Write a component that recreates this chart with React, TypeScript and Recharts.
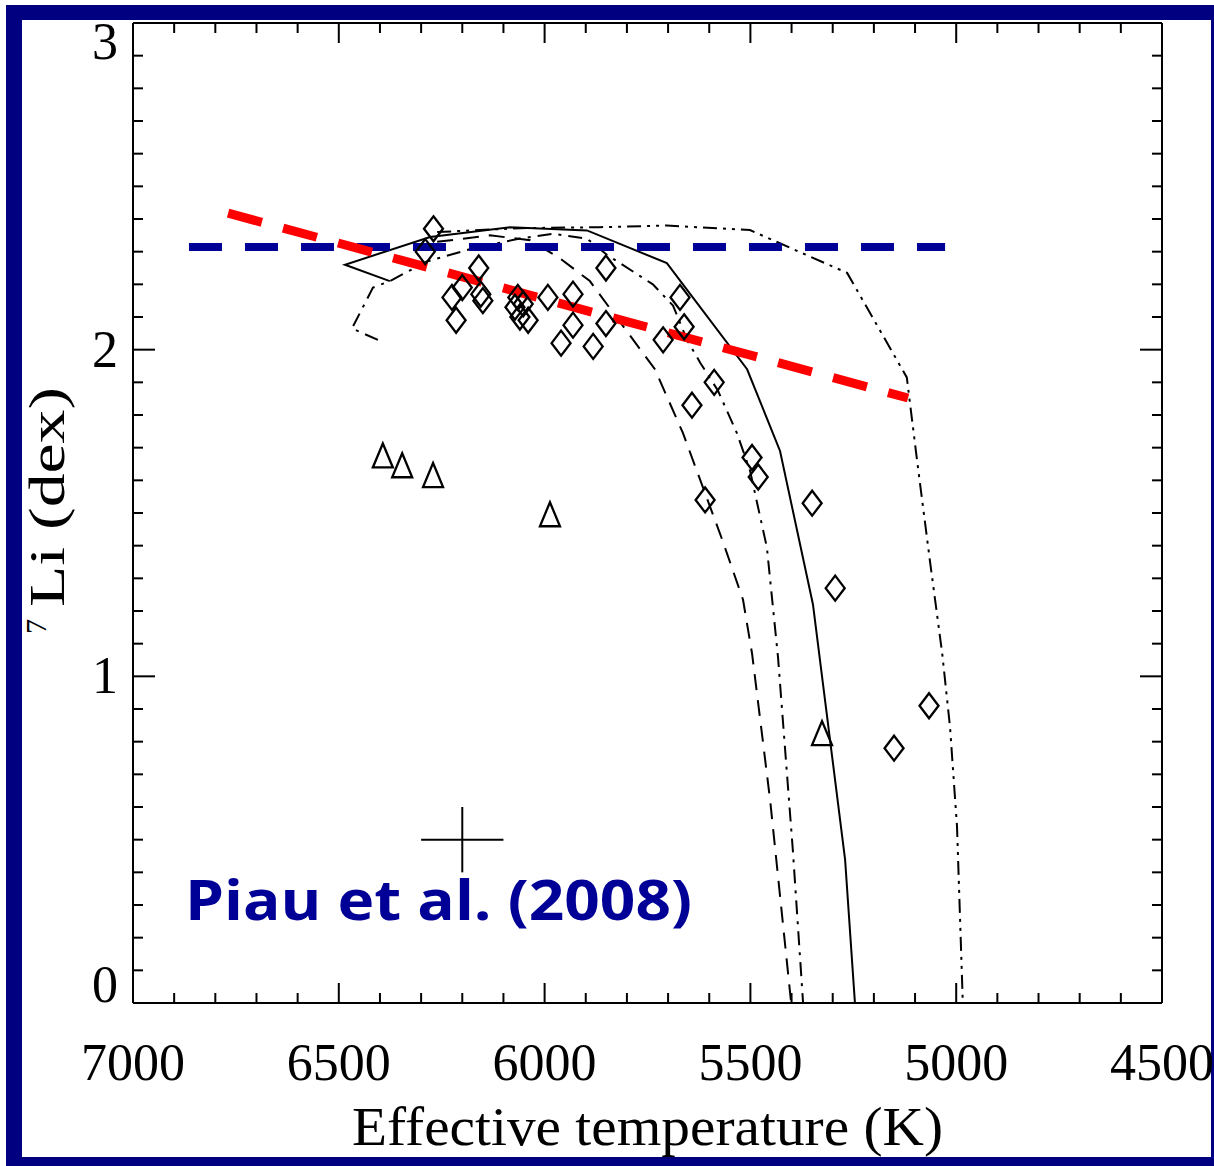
import React from 'react';
import { ComposedChart, Line, Scatter, XAxis, YAxis } from 'recharts';

// ---- axis ticks ----
const xTickValues = [4500, 4600, 4700, 4800, 4900, 5000, 5100, 5200, 5300, 5400, 5500, 5600, 5700, 5800, 5900, 6000, 6100, 6200, 6300, 6400, 6500, 6600, 6700, 6800, 6900, 7000];
const xMajorLabels = [4500, 5000, 5500, 6000, 6500, 7000];
const yTickValues = [0, 0.1, 0.2, 0.3, 0.4, 0.5, 0.6, 0.7, 0.8, 0.9, 1, 1.1, 1.2, 1.3, 1.4, 1.5, 1.6, 1.7, 1.8, 1.9, 2, 2.1, 2.2, 2.3, 2.4, 2.5, 2.6, 2.7, 2.8, 2.9, 3];
const yMajorLabels = [0, 1, 2, 3];

// ---- observed stars ----
const diamondStars = [
  { x: 6270, y: 2.37 }, { x: 6290, y: 2.30 }, { x: 6160, y: 2.25 }, { x: 6200, y: 2.19 },
  { x: 6225, y: 2.16 }, { x: 6155, y: 2.17 }, { x: 6150, y: 2.15 }, { x: 6215, y: 2.09 },
  { x: 6065, y: 2.16 }, { x: 6072, y: 2.13 }, { x: 6052, y: 2.14 }, { x: 6060, y: 2.10 },
  { x: 6040, y: 2.09 }, { x: 5992, y: 2.16 }, { x: 5931, y: 2.17 }, { x: 5960, y: 2.02 },
  { x: 5931, y: 2.075 }, { x: 5882, y: 2.01 }, { x: 5851, y: 2.08 }, { x: 5851, y: 2.25 },
  { x: 5712, y: 2.03 }, { x: 5671, y: 2.16 }, { x: 5661, y: 2.07 }, { x: 5588, y: 1.90 },
  { x: 5642, y: 1.83 }, { x: 5610, y: 1.54 }, { x: 5496, y: 1.67 }, { x: 5481, y: 1.61 },
  { x: 5350, y: 1.53 }, { x: 5294, y: 1.27 }, { x: 5151, y: 0.78 }, { x: 5066, y: 0.91 },
];
const triangleStars = [
  { x: 6393, y: 1.67 }, { x: 6346, y: 1.64 }, { x: 6271, y: 1.61 }, { x: 5987, y: 1.49 }, { x: 5326, y: 0.82 },
];

// ---- model curves ----
const solidModel = [
  { x: 6376, y: 2.21 }, { x: 6485, y: 2.26 }, { x: 6278, y: 2.345 }, { x: 6084, y: 2.375 },
  { x: 5897, y: 2.365 }, { x: 5703, y: 2.265 }, { x: 5508, y: 1.94 }, { x: 5428, y: 1.69 },
  { x: 5348, y: 1.22 }, { x: 5270, y: 0.44 }, { x: 5246, y: 0 },
];
const dashedModel = [
  { x: 6261, y: 2.33 }, { x: 6133, y: 2.35 }, { x: 6035, y: 2.335 }, { x: 5963, y: 2.28 },
  { x: 5890, y: 2.21 }, { x: 5817, y: 2.085 }, { x: 5732, y: 1.94 }, { x: 5664, y: 1.745 },
  { x: 5569, y: 1.42 }, { x: 5518, y: 1.235 }, { x: 5496, y: 1.07 }, { x: 5452, y: 0.62 }, { x: 5401, y: 0 },
];
const dashDotModel = [
  { x: 6405, y: 2.03 }, { x: 6468, y: 2.065 }, { x: 6417, y: 2.19 }, { x: 6376, y: 2.21 },
  { x: 6286, y: 2.27 }, { x: 6174, y: 2.31 }, { x: 6060, y: 2.34 }, { x: 5980, y: 2.355 },
  { x: 5897, y: 2.34 }, { x: 5848, y: 2.29 }, { x: 5737, y: 2.2 }, { x: 5688, y: 2.135 },
  { x: 5654, y: 2.03 }, { x: 5622, y: 1.96 }, { x: 5579, y: 1.875 }, { x: 5533, y: 1.745 },
  { x: 5501, y: 1.63 }, { x: 5460, y: 1.395 }, { x: 5433, y: 1.06 }, { x: 5397, y: 0.47 }, { x: 5372, y: 0 },
];
const dashDotDotModel = [
  { x: 6261, y: 2.36 }, { x: 6060, y: 2.372 }, { x: 5865, y: 2.375 }, { x: 5703, y: 2.38 },
  { x: 5501, y: 2.366 }, { x: 5265, y: 2.235 }, { x: 5120, y: 1.915 }, { x: 5095, y: 1.66 },
  { x: 5064, y: 1.355 }, { x: 5034, y: 1.07 }, { x: 5015, y: 0.845 }, { x: 4998, y: 0.54 },
  { x: 4986, y: 0.08 }, { x: 4984, y: 0 },
];

// ---- reference lines ----
const bluePlateau = [{ x: 6864, y: 2.314 }, { x: 5027, y: 2.314 }];
const redTrend = [{ x: 6769, y: 2.418 }, { x: 5117, y: 1.852 }];

// ---- error cross ----
const errorBarH = [{ x: 6300, y: 0.5 }, { x: 6100, y: 0.5 }];
const errorBarV = [{ x: 6200, y: 0.4 }, { x: 6200, y: 0.6 }];

const TICK_FONT = '"Liberation Serif", "DejaVu Serif", serif';

const isMajorY = (v: number) => yMajorLabels.some((m) => Math.abs(m - v) < 1e-6);

const BottomTick = (props: any) => {
  const { x, y, payload } = props;
  const major = xMajorLabels.includes(payload.value);
  return (
    <g>
      <line x1={x} x2={x} y1={y} y2={y - (major ? 20 : 10)} stroke="#000" strokeWidth={2} />
      {major && (
        <text x={x} y={y + 77} textAnchor="middle" fontFamily={TICK_FONT} fontSize={52} fill="#000">
          {payload.value}
        </text>
      )}
    </g>
  );
};
const TopTick = (props: any) => {
  const { x, y, payload } = props;
  const major = xMajorLabels.includes(payload.value);
  return <line x1={x} x2={x} y1={y} y2={y + (major ? 20 : 10)} stroke="#000" strokeWidth={2} />;
};
const LeftTick = (props: any) => {
  const { x, y, payload } = props;
  const v = payload.value;
  const major = isMajorY(v);
  let base = y + 17;
  if (Math.abs(v) < 1e-6) base = y - 1;
  if (Math.abs(v - 3) < 1e-6) base = y + 36;
  return (
    <g>
      <line x1={x} x2={x + (major ? 22 : 10)} y1={y} y2={y} stroke="#000" strokeWidth={2} />
      {major && (
        <text x={x - 15} y={base} textAnchor="end" fontFamily={TICK_FONT} fontSize={52} fill="#000">
          {Math.round(v)}
        </text>
      )}
    </g>
  );
};
const RightTick = (props: any) => {
  const { x, y, payload } = props;
  const major = isMajorY(payload.value);
  return <line x1={x} x2={x - (major ? 22 : 10)} y1={y} y2={y} stroke="#000" strokeWidth={2} />;
};

const DiamondShape = (props: any) => {
  const { cx, cy } = props;
  if (cx == null || cy == null) return <g />;
  const w = 9.5;
  const h = 12.5;
  return (
    <path
      d={`M${cx},${cy - h} L${cx + w},${cy} L${cx},${cy + h} L${cx - w},${cy} Z`}
      fill="none"
      stroke="#000"
      strokeWidth={2.3}
    />
  );
};
const TriangleShape = (props: any) => {
  const { cx, cy } = props;
  if (cx == null || cy == null) return <g />;
  return (
    <path
      d={`M${cx},${cy - 14} L${cx + 10},${cy + 10} L${cx - 10},${cy + 10} Z`}
      fill="none"
      stroke="#000"
      strokeWidth={2.3}
    />
  );
};

const W = 1214;
const H = 1166;

export default function App() {
  return (
    <>
      <div
        style={{
          position: 'absolute',
          left: 6,
          top: 5,
          width: 1208,
          height: 1161,
          boxSizing: 'border-box',
          borderStyle: 'solid',
          borderColor: '#000080',
          borderWidth: '15px 3px 9px 16px',
          background: '#fff',
        }}
      />
      <div style={{ position: 'absolute', left: 0, top: 0, width: W, height: H }}>
        <ComposedChart
          width={W}
          height={H}
          margin={{ top: 22, right: 51, bottom: 162, left: 132 }}
          style={{ overflow: 'visible' }}
        >
          <XAxis
            xAxisId="b"
            dataKey="x"
            type="number"
            domain={[4500, 7000]}
            allowDataOverflow
            reversed
            orientation="bottom"
            height={1}
            ticks={xTickValues}
            interval={0}
            tickSize={0}
            tickMargin={0}
            tick={<BottomTick />}
            axisLine={{ stroke: '#000', strokeWidth: 2 }}
            tickLine={false}
          />
          <XAxis
            xAxisId="t"
            dataKey="x"
            type="number"
            domain={[4500, 7000]}
            allowDataOverflow
            reversed
            orientation="top"
            height={1}
            ticks={xTickValues}
            interval={0}
            tickSize={0}
            tickMargin={0}
            tick={<TopTick />}
            axisLine={{ stroke: '#000', strokeWidth: 2 }}
            tickLine={false}
          />
          <YAxis
            yAxisId="l"
            dataKey="y"
            type="number"
            domain={[0, 3]}
            allowDataOverflow
            orientation="left"
            width={1}
            ticks={yTickValues}
            interval={0}
            tickSize={0}
            tickMargin={0}
            tick={<LeftTick />}
            axisLine={{ stroke: '#000', strokeWidth: 2 }}
            tickLine={false}
          />
          <YAxis
            yAxisId="r"
            dataKey="y"
            type="number"
            domain={[0, 3]}
            allowDataOverflow
            orientation="right"
            width={1}
            ticks={yTickValues}
            interval={0}
            tickSize={0}
            tickMargin={0}
            tick={<RightTick />}
            axisLine={{ stroke: '#000', strokeWidth: 2 }}
            tickLine={false}
          />

          <Line xAxisId="b" yAxisId="l" data={solidModel} dataKey="y" stroke="#000" strokeWidth={2} dot={false} isAnimationActive={false} />
          <Line xAxisId="b" yAxisId="l" data={dashedModel} dataKey="y" stroke="#000" strokeWidth={2} strokeDasharray="16 10" dot={false} isAnimationActive={false} />
          <Line xAxisId="b" yAxisId="l" data={dashDotModel} dataKey="y" stroke="#000" strokeWidth={2} strokeDasharray="14 7 3 7" dot={false} isAnimationActive={false} />
          <Line xAxisId="b" yAxisId="l" data={dashDotDotModel} dataKey="y" stroke="#000" strokeWidth={2} strokeDasharray="14 6 3 6 3 6" dot={false} isAnimationActive={false} />

          <Line xAxisId="b" yAxisId="l" data={errorBarH} dataKey="y" stroke="#000" strokeWidth={2} dot={false} isAnimationActive={false} />
          <Line xAxisId="b" yAxisId="l" data={errorBarV} dataKey="y" stroke="#000" strokeWidth={2} dot={false} isAnimationActive={false} />

          <Scatter xAxisId="b" yAxisId="l" data={diamondStars} dataKey="y" shape={<DiamondShape />} isAnimationActive={false} />
          <Scatter xAxisId="b" yAxisId="l" data={triangleStars} dataKey="y" shape={<TriangleShape />} isAnimationActive={false} />

          <Line xAxisId="b" yAxisId="l" data={bluePlateau} dataKey="y" stroke="#000096" strokeWidth={8} strokeDasharray="33 23" dot={false} isAnimationActive={false} />
          <Line xAxisId="b" yAxisId="l" data={redTrend} dataKey="y" stroke="#ff0000" strokeWidth={9} strokeDasharray="35 22" dot={false} isAnimationActive={false} />
        </ComposedChart>

        <svg width={W} height={H} style={{ position: 'absolute', left: 0, top: 0, pointerEvents: 'none' }}>
          <text
            x={185}
            y={920}
            fontFamily='"Comic Sans MS", "Open Sans", "Noto Sans", sans-serif'
            fontWeight="bold"
            fontSize={56}
            fill="#000096"
            textLength={507}
            lengthAdjust="spacingAndGlyphs"
          >
            Piau et al. (2008)
          </text>
          <text
            x={352}
            y={1145}
            fontFamily={TICK_FONT}
            fontSize={54}
            fill="#000"
            textLength={591}
            lengthAdjust="spacingAndGlyphs"
          >
            Effective temperature (K)
          </text>
          <g transform="rotate(-90)">
            <text x={-634} y={64} fontFamily={TICK_FONT} fontSize={50} fill="#000">
              <tspan fontSize={30} dy={-18}>7</tspan>
              <tspan dy={18} dx={12} textLength={220} lengthAdjust="spacingAndGlyphs">Li (dex)</tspan>
            </text>
          </g>
        </svg>
      </div>
    </>
  );
}
